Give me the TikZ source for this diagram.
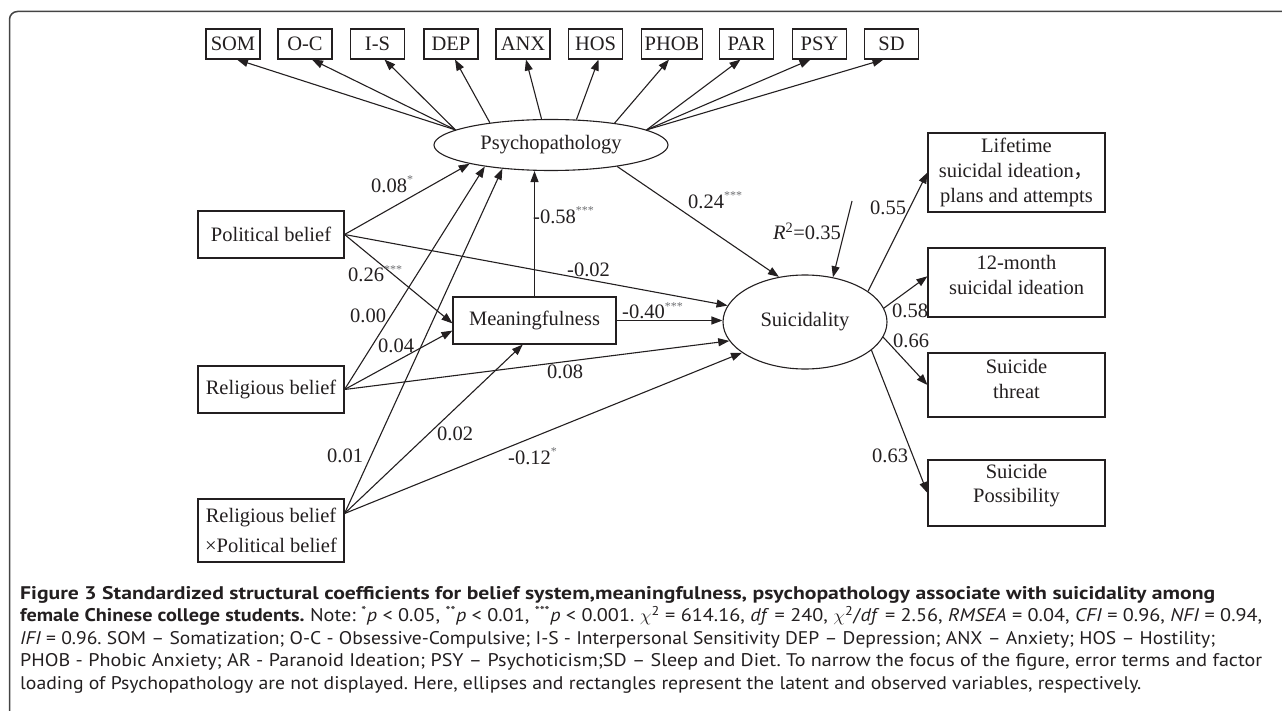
\documentclass[tikz,border=0pt]{standalone}
\usepackage{fontspec}
\usepackage{graphicx}
\setmainfont{Liberation Serif}
\newfontfamily\capfont{PT Sans}
\newfontfamily\cjk{Noto Sans CJK SC}
\usetikzlibrary{positioning, arrows.meta, shapes.geometric}
\frenchspacing

\definecolor{ink}{HTML}{231F20}
\definecolor{stargray}{HTML}{6D6E71}
\definecolor{framegray}{HTML}{444444}

\newcommand{\sig}[1]{\raisebox{9pt}{\fontsize{12}{12}\selectfont\color{stargray}#1}}
\newcommand{\capln}[2]{\resizebox{#1}{\height}{#2}}

\begin{document}
\begin{tikzpicture}[x=1pt, y=-1pt,
    every node/.style={font=\fontsize{20.5}{24.6}\selectfont, text=ink},
    obs/.style={draw=ink, line width=1.1pt, inner sep=0pt, align=center},
    lat/.style={draw=ink, line width=1.1pt, ellipse, inner sep=0pt},
    coef/.style={anchor=base west, inner sep=0pt},
    link/.style={draw=ink, line width=1.1pt, -{Triangle[length=11pt, width=8pt]}},
    capline/.style={anchor=base west, inner sep=0pt, text=ink,
        font=\capfont\fontsize{18.3}{21}\selectfont}]
\useasboundingbox (0,0) rectangle (1282,711);

% outer frame
\draw[framegray, line width=1.5pt, rounded corners=8pt] (1282,11.5) -- (9.5,11.5) -- (9.5,711);

% latent variables
\node[lat, minimum width=234pt, minimum height=51pt] (psych) at (551,145) {Psychopathology};
\node[lat, minimum width=164pt, minimum height=94pt] (suic) at (805,322) {Suicidality};

% SCL-90 factors
\foreach \nm/\lbl/\x/\a/\dx in {som/SOM/233/171/4, oc/O-C/305/171/7, is/I-S/377.5/171/7,
    dep/DEP/451/160/4, anx/ANX/523/110/3, hos/HOS/595.5/45/3, phob/PHOB/672/19/-3,
    par/PAR/746.5/9/-6, psy/PSY/819.5/9/-9, sd/SD/891.5/9/-8} {
  \node[obs, minimum width=54pt, minimum height=30pt, inner xsep=3.5pt] (\nm) at (\x,44) {\lbl};
  \draw[link] (psych.\a) -- ([xshift=\dx pt]\nm.south);
}

% observed variables
\node[obs, minimum width=146pt, minimum height=47pt] (pol) at (271,234.5) {Political belief};
\node[obs, minimum width=146pt, minimum height=47pt] (rel) at (271,389.5) {Religious belief};
\node[obs, minimum width=146pt, minimum height=63pt] (rxp) at (271,530.5) {Religious belief\\[5pt]×Political belief};
\node[obs, minimum width=163pt, minimum height=47pt] (mean) at (534.5,320.5) {Meaningfulness};

\node[obs, minimum width=177pt, minimum height=79pt] (life) at (1016.5,172.5) {Lifetime\\suicidal ideation{\cjk ，}\\plans and attempts};
\node[obs, minimum width=177pt, minimum height=69pt, text depth=15pt] (month) at (1016.5,282.5) {12-month\\suicidal ideation};
\node[obs, minimum width=177pt, minimum height=64pt, text depth=12pt] (threat) at (1016.5,385) {Suicide\\threat};
\node[obs, minimum width=177pt, minimum height=66pt, text depth=19pt] (poss) at (1016.5,493) {Suicide\\Possibility};

% structural paths
\draw[link] (pol.east) -- (psych.193);
\draw[link] (pol.east) -- (suic.168);
\draw[link] (pol.east) -- (mean.182);
\draw[link] (rel.east) -- (psych.198);
\draw[link] (rel.east) -- (mean.187);
\draw[link] (rel.east) -- (suic.194);
\draw[link] (rxp.13) -- (psych.206);
\draw[link] (rxp.13) -- (mean.244);
\draw[link] (rxp.13) -- (suic.206);
\draw[link] (mean.north) -- (mean.north |- psych.south);
\draw[link] (mean.east) -- (mean.east -| suic.west);
\draw[link] (psych.-18) -- (suic.120);
\coordinate (err) at (852,201);
\draw[link] (err) -- (suic.58);

% indicators of suicidality
\draw[link] (suic.26) -- (life.west);
\draw[link] (suic.10) -- (month.176);
\draw[link] (suic.-11) -- (threat.west);
\draw[link] (suic.-23) -- (poss.west);

% coefficients
\node[coef] (c1) at (371,193) {0.08\sig{*}};
\node[coef] (c2) at (348,282) {0.26\sig{***}};
\node[coef] (c3) at (350,322) {0.00};
\node[coef] (c4) at (378,352) {0.04};
\node[coef] (c5) at (327,462) {0.01};
\node[coef] (c6) at (437,440) {0.02};
\node[coef] (c7) at (508,464) {-0.12\sig{*}};
\node[coef] (c8) at (547,378) {0.08};
\node[coef] (c9) at (533,224) {-0.58\sig{***}};
\node[coef] (c10) at (567,277) {-0.02};
\node[coef] (c11) at (622,319) {-0.40\sig{***}};
\node[coef] (c12) at (688,209) {0.24\sig{***}};
\node[coef] (r2) at (773,240) {\textit{R}\textsuperscript{2}=0.35};
\node[coef] (c13) at (870,215) {0.55};
\node[coef] (c14) at (892,317) {0.58};
\node[coef] (c15) at (893,347) {0.66};
\node[coef] (c16) at (872,462) {0.63};

% caption
\node[capline] (cap1) at (20,599) {\capln{1195pt}{\textbf{Figure 3 Standardized structural coefficients for belief system,meaningfulness, psychopathology associate with suicidality among}}};
\node[capline] (cap2) at (20,621.5) {\capln{1242pt}{\textbf{female Chinese college students.} Note: \textsuperscript{*}\textit{p} < 0.05, \textsuperscript{**}\textit{p} < 0.01, \textsuperscript{***}\textit{p} < 0.001. $\chi$\textsuperscript{2} = 614.16, \textit{df} = 240, $\chi$\textsuperscript{2}/\textit{df} = 2.56, \textit{RMSEA} = 0.04, \textit{CFI} = 0.96, \textit{NFI} = 0.94,}};
\node[capline] (cap3) at (20,644) {\capln{1195pt}{\textit{IFI} = 0.96. SOM – Somatization; O-C - Obsessive-Compulsive; I-S - Interpersonal Sensitivity DEP – Depression; ANX – Anxiety; HOS – Hostility;}};
\node[capline] (cap4) at (20,666.5) {\capln{1242pt}{PHOB - Phobic Anxiety; AR - Paranoid Ideation; PSY – Psychoticism;SD – Sleep and Diet. To narrow the focus of the figure, error terms and factor}};
\node[capline] (cap5) at (20,689) {\capln{1121pt}{loading of Psychopathology are not displayed. Here, ellipses and rectangles represent the latent and observed variables, respectively.}};
\end{tikzpicture}
\end{document}
